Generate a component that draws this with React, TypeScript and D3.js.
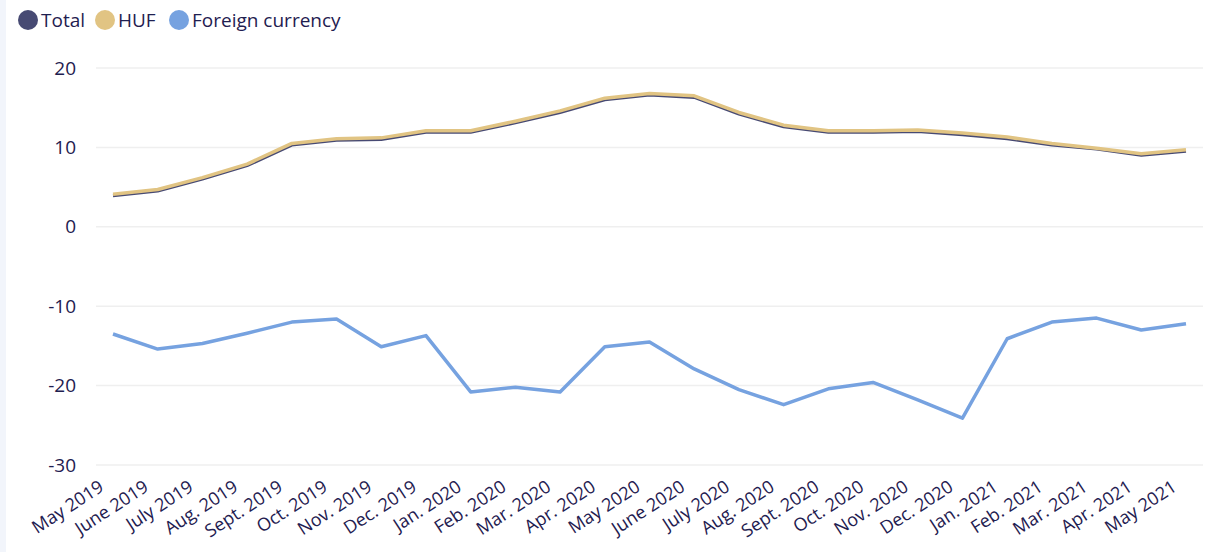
import React from "react";
import * as d3 from "d3";

const categories = ["May 2019","June 2019","July 2019","Aug. 2019","Sept. 2019","Oct. 2019","Nov. 2019","Dec. 2019","Jan. 2020","Feb. 2020","Mar. 2020","Apr. 2020","May 2020","June 2020","July 2020","Aug. 2020","Sept. 2020","Oct. 2020","Nov. 2020","Dec. 2020","Jan. 2021","Feb. 2021","Mar. 2021","Apr. 2021","May 2021"];
const huf = [4.1,4.7,6.2,7.9,10.5,11.1,11.2,12.1,12.1,13.3,14.6,16.2,16.8,16.5,14.4,12.8,12.1,12.1,12.2,11.8,11.3,10.5,9.9,9.2,9.7];
const total = [3.9,4.5,6.0,7.7,10.3,10.9,11.0,11.9,11.9,13.1,14.4,16.0,16.6,16.3,14.2,12.6,11.9,11.9,12.0,11.6,11.1,10.3,9.8,9.0,9.5];
const foreign = [-13.5,-15.4,-14.7,-13.4,-12.0,-11.6,-15.1,-13.7,-20.8,-20.2,-20.8,-15.1,-14.5,-17.9,-20.5,-22.4,-20.4,-19.6,-21.8,-24.1,-14.1,-12.0,-11.5,-13.0,-12.2];
const yTicks = [20,10,0,-10,-20,-30];
const legend = [
  { name: "Total", color: "#474a73" },
  { name: "HUF", color: "#e1c483" },
  { name: "Foreign currency", color: "#76a2e0" },
];

const W = 1213, H = 552;
const textColor = "#1f2050";
const font = "'Open Sans', sans-serif";

export default function App() {
  const x = d3.scalePoint<string>().domain(categories).range([113, 1186]);
  const y = d3.scaleLinear().domain([-30, 20]).range([465, 68]);
  const line = d3.line<number>().x((_, i) => x(categories[i])!).y((d) => y(d));
  const legendX = [18, 95, 169];
  return (
    <svg width={W} height={H} style={{ position: "absolute", left: 0, top: 0, background: "#fff" }} fontFamily={font}>
      <rect x={0} y={0} width={6} height={H} fill="#f2f5fb" />
      {yTicks.map((t) => (
        <g key={t}>
          <line x1={96} x2={1203} y1={y(t)} y2={y(t)} stroke="#efefef" strokeWidth={1.5} />
          <text x={76} y={y(t)} dy="0.35em" textAnchor="end" fontSize={19} fill={textColor}>{t}</text>
        </g>
      ))}
      {categories.map((c) => (
        <text key={c} transform={`translate(${x(c)! - 8},${490}) rotate(-33)`} textAnchor="end" fontSize={18} fill={textColor}>{c}</text>
      ))}
      <path d={line(foreign)!} fill="none" stroke="#76a2e0" strokeWidth={3.5} strokeLinejoin="round" />
      <path d={line(total)!} fill="none" stroke="#474a73" strokeWidth={3} strokeLinejoin="round" />
      <path d={line(huf)!} fill="none" stroke="#e1c483" strokeWidth={3.5} strokeLinejoin="round" />
      {legend.map((l, i) => (
        <g key={l.name}>
          <circle cx={legendX[i] + 10} cy={20} r={10} fill={l.color} />
          <text x={legendX[i] + 23} y={20} dy="0.35em" fontSize={19} fill={textColor}>{l.name}</text>
        </g>
      ))}
    </svg>
  );
}
